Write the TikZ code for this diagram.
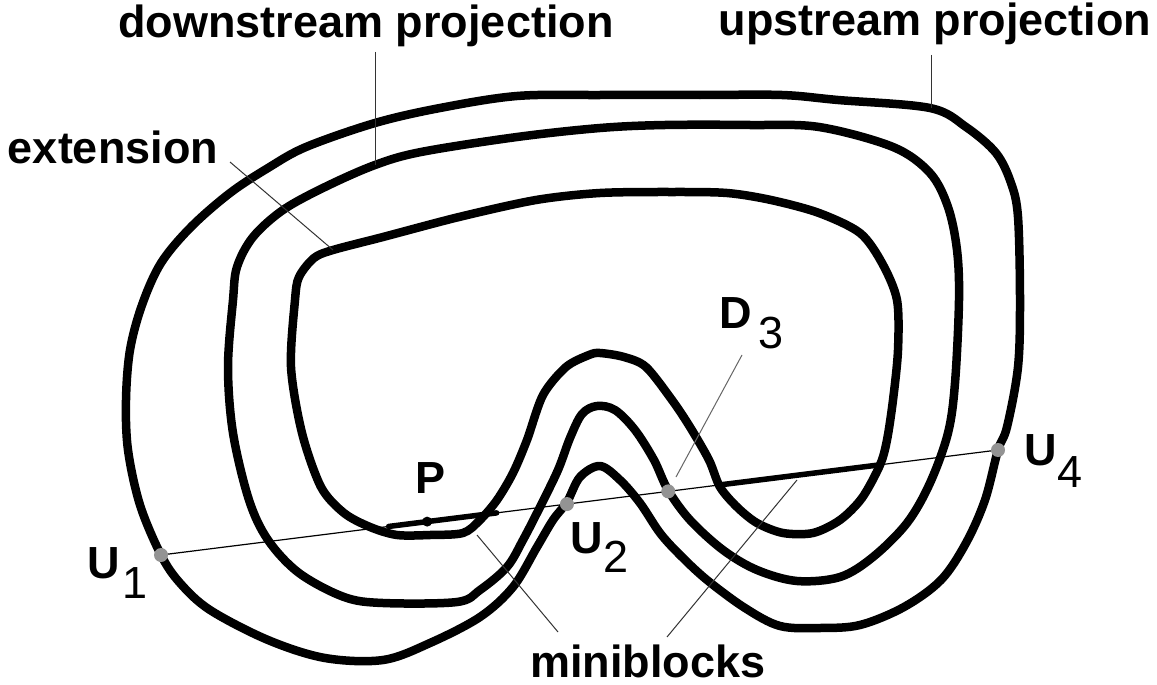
\documentclass[tikz,border=0pt]{standalone}
\usepackage{fontspec}
\setmainfont{Liberation Sans}
\usetikzlibrary{calc}
\begin{document}
\begin{tikzpicture}[x=1pt,y=-1pt,
  curve/.style={line width=8.5pt, line join=round},
  chord/.style={line width=5.5pt, line cap=round},
  thinline/.style={line width=1.2pt},
  leader/.style={line width=1pt, black!80},
  big/.style={font=\fontsize{45}{50}\selectfont\bfseries, inner sep=0pt, anchor=base},
  lbl/.style={font=\fontsize{45}{50}\selectfont\bfseries, inner sep=0pt, anchor=base west},
  gdot/.style={circle, fill=gray!85, inner sep=0pt, minimum size=14pt},
  bdot/.style={circle, fill=black, inner sep=0pt, minimum size=10pt}]
\useasboundingbox (0,0) rectangle (1157,685);
\fill[white] (0,0) rectangle (1157,685);

% outer curve
\draw[curve] plot[smooth cycle, tension=0.55] coordinates {
(161,555) (140,505) (128,450) (126,400) (130,350) (142,305) (161,263) (191,227)
(230,193) (268,168) (306,147) (375,123) (440,108) (517,96) (600,95) (700,95)
(782,95) (838,100) (930,108) (966,127) (996,153) (1011,183) (1018,217) (1020,300)
(1018,367) (1007,427) (998,450) (985,500) (966,543) (941,580) (904,607) (860,625)
(820,628) (780,626) (745,608) (707,580) (680,555) (660,533) (640,503) (620,480)
(600,466) (580,477) (567,502) (553,520) (537,547) (513,587) (480,617) (430,643)
(383,660) (325,658) (268,640) (210,610) (180,583)};

% middle curve
\draw[curve] plot[smooth cycle, tension=0.55] coordinates {
(233,300) (237,267) (253,237) (283,210) (325,187) (375,165) (421,152) (517,137)
(600,128) (665,125) (750,125) (819,127) (893,147) (930,173) (948,207) (957,250)
(959,300) (955,383) (948,433) (930,483) (907,523) (873,557) (840,577) (797,581)
(757,570) (723,550) (690,520) (668,490) (654,460) (635,430) (615,410) (597,406)
(582,414) (570,438) (558,470) (540,507) (523,540) (507,567) (480,590) (457,602)
(383,603) (344,597) (299,573) (268,540) (249,500) (233,433) (228,367)};

% inner curve
\draw[curve] plot[smooth cycle, tension=0.5] coordinates {
(314,258) (333,250) (383,237) (459,217) (536,200) (600,193) (672,192) (727,193)
(771,200) (819,213) (860,233) (882,263) (897,300) (898,350) (893,400) (887,440)
(880,465) (862,498) (840,520) (813,533) (783,533) (757,523) (737,507) (720,487)
(709,460) (690,427) (672,400) (646,367) (624,357) (600,353) (589,355) (566,367)
(543,395) (527,440) (513,473) (497,500) (480,520) (463,533) (430,535) (397,535)
(370,527) (344,513) (321,487) (302,433) (291,367) (295,300) (299,277)};

% the line U1 -- U4
\coordinate (U1) at (161,555);
\coordinate (U4) at (998,450);
\coordinate (U2) at ($(U1)!0.485!(U4)$);
\coordinate (D3) at ($(U1)!0.606!(U4)$);
\coordinate (P)  at ($(U1)!0.318!(U4)$);
\coordinate (cA) at ($(U1)!0.272!(U4)$);
\coordinate (cB) at ($(U1)!0.401!(U4)$);
\coordinate (cC) at ($(U1)!0.669!(U4)$);
\coordinate (cD) at ($(U1)!0.857!(U4)$);
\draw[thinline] (U1) -- (U4);
\draw[chord] (cA) -- (cB);
\draw[chord] (cC) -- (cD);

\node[gdot] (dU1) at (U1) {};
\node[gdot] (dU2) at (U2) {};
\node[gdot] (dD3) at (D3) {};
\node[gdot] (dU4) at (U4) {};
\node[bdot] (dP) at (P) {};

% leaders
\coordinate (ds1) at (375,52);  \coordinate (ds2) at (375,165);
\coordinate (us1) at (931,55);  \coordinate (us2) at (931,108);
\coordinate (ex1) at (230,162); \coordinate (ex2) at (333,250);
\coordinate (dl1) at (742,355); \coordinate (dl2) at (676,477);
\coordinate (m1a) at (558,632); \coordinate (m1b) at (477,535);
\coordinate (m2a) at (667,637); \coordinate (m2b) at (797,480);
\draw[leader] (ds1) -- (ds2);
\draw[leader] (us1) -- (us2);
\draw[leader] (ex1) -- (ex2);
\draw[leader, black!60] (dl1) -- (dl2);
\draw[leader] (m1a) -- (m1b);
\draw[leader] (m2a) -- (m2b);

% texts
\node[big] (tds) at (366,38) {downstream projection};
\node[big] (tus) at (935,36) {upstream projection};
\node[big] (tex) at (113,163) {extension};
\node[big] (tmb) at (648,677) {miniblocks};
\node[lbl] (lU1) at (87,578) {U\kern2.6pt\raisebox{-20pt}{\mdseries 1}};
\node[lbl] (lU2) at (570,553) {U\kern1.2pt\raisebox{-19pt}{\mdseries 2}};
\node[lbl] (lD3) at (719,328) {D\kern6.6pt\raisebox{-20pt}{\mdseries 3}};
\node[lbl] (lU4) at (1024,465) {U\kern1pt\raisebox{-22pt}{\mdseries 4}};
\node[lbl] (lP) at (415,493) {P};
\end{tikzpicture}
\end{document}
